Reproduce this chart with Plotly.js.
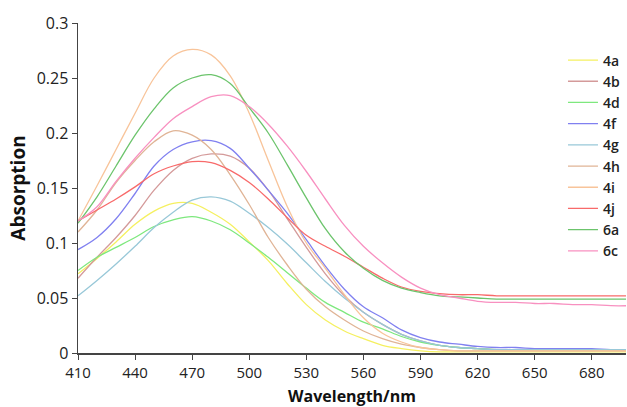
<!DOCTYPE html>
<html>
<head>
<meta charset="utf-8">
<script src="https://cdn.plot.ly/plotly-3.0.1.min.js"></script>
<style>html,body{margin:0;padding:0;background:#fff;}#chart{width:627px;height:407px;}</style>
</head>
<body>
<div id="chart"></div>
<script>
const wavelength = [410,420,430,440,450,460,470,480,490,500,510,520,530,540,550,560,570,580,590,600,610,620,630,640,650,660,670,680,690,700];
const s4a = [0.072,0.086,0.101,0.117,0.129,0.136,0.136,0.128,0.117,0.101,0.084,0.063,0.044,0.030,0.020,0.013,0.007,0.004,0.002,0.001,0.001,0.001,0.001,0.001,0.001,0.001,0.001,0.001,0.001,0.001];
const s4b = [0.068,0.087,0.105,0.125,0.148,0.166,0.177,0.181,0.179,0.168,0.148,0.122,0.096,0.072,0.052,0.037,0.026,0.017,0.011,0.007,0.005,0.004,0.003,0.003,0.003,0.003,0.003,0.003,0.003,0.003];
const s4d = [0.075,0.087,0.096,0.105,0.115,0.121,0.124,0.120,0.112,0.100,0.087,0.073,0.059,0.046,0.037,0.028,0.022,0.015,0.010,0.007,0.005,0.004,0.003,0.003,0.003,0.003,0.003,0.003,0.003,0.003];
const s4f = [0.094,0.105,0.122,0.145,0.170,0.185,0.192,0.193,0.186,0.168,0.148,0.127,0.103,0.079,0.058,0.042,0.032,0.021,0.014,0.010,0.008,0.006,0.005,0.005,0.004,0.004,0.004,0.004,0.003,0.003];
const s4g = [0.052,0.066,0.081,0.097,0.114,0.128,0.139,0.142,0.138,0.127,0.114,0.099,0.082,0.065,0.050,0.037,0.026,0.017,0.011,0.007,0.005,0.004,0.003,0.003,0.003,0.003,0.003,0.003,0.003,0.003];
const s4h = [0.110,0.130,0.155,0.175,0.192,0.202,0.198,0.185,0.162,0.135,0.105,0.080,0.058,0.042,0.030,0.020,0.013,0.008,0.005,0.003,0.002,0.002,0.002,0.002,0.002,0.002,0.002,0.002,0.002,0.002];
const s4i = [0.120,0.152,0.185,0.218,0.250,0.270,0.276,0.271,0.252,0.218,0.175,0.133,0.100,0.077,0.053,0.032,0.018,0.010,0.005,0.003,0.002,0.002,0.002,0.002,0.002,0.002,0.002,0.002,0.002,0.002];
const s4j = [0.120,0.130,0.140,0.151,0.163,0.170,0.174,0.173,0.166,0.155,0.140,0.123,0.107,0.097,0.088,0.078,0.068,0.060,0.056,0.054,0.053,0.053,0.052,0.052,0.052,0.052,0.052,0.052,0.052,0.052];
const s6a = [0.118,0.142,0.170,0.198,0.222,0.241,0.250,0.253,0.245,0.223,0.200,0.171,0.141,0.113,0.092,0.077,0.066,0.059,0.055,0.052,0.051,0.050,0.049,0.049,0.049,0.049,0.049,0.049,0.049,0.049];
const s6c = [0.120,0.133,0.156,0.177,0.196,0.213,0.224,0.233,0.234,0.224,0.208,0.188,0.165,0.140,0.116,0.097,0.082,0.069,0.059,0.053,0.050,0.047,0.046,0.046,0.045,0.045,0.044,0.044,0.043,0.043];

const names = ['4a','4b','4d','4f','4g','4h','4i','4j','6a','6c'];
const values = [s4a,s4b,s4d,s4f,s4g,s4h,s4i,s4j,s6a,s6c];
const colors = ['#f5f060','#d49a9a','#7ee87e','#8080f0','#98c8d8','#e0b496','#f8c49a','#f86a6a','#6cc46c','#f890c0'];

const traces = names.map((n,i)=>({
  x: wavelength, y: values[i], name: n, type:'scatter', mode:'lines',
  line:{color:colors[i], width:1.3, shape:'spline', smoothing:1}
}));

const layout = {
  width:627, height:407,
  margin:{l:78, r:1, t:23, b:54},
  paper_bgcolor:'#fff', plot_bgcolor:'#fff',
  font:{family:'Open Sans, sans-serif', color:'#222', size:14},
  showlegend:true,
  legend:{x:0.885, xanchor:'left', y:0.935, yanchor:'top', bgcolor:'rgba(0,0,0,0)',
    font:{size:14, color:'#222', weight:600}, itemwidth:30, tracegroupgap:0},
  xaxis:{range:[410,698], tick0:410, dtick:30, showgrid:false, zeroline:false,
    showline:true, linecolor:'#444', linewidth:1.5, ticks:'outside', ticklen:5, tickcolor:'#444',
    tickfont:{size:15, color:'#222'},
    title:{text:'<b>Wavelength/nm</b>', font:{size:16, color:'#111'}, standoff:10}},
  yaxis:{range:[0,0.3], dtick:0.05, showgrid:false, zeroline:false,
    showline:true, linecolor:'#444', linewidth:1.5, ticks:'outside', ticklen:5, tickcolor:'#444',
    tickfont:{size:16, color:'#222'},
    title:{text:'<b>Absorption</b>', font:{size:19, color:'#111'}, standoff:6}}
};
Plotly.newPlot('chart', traces, layout, {displayModeBar:false, staticPlot:true});
</script>
</body>
</html>
